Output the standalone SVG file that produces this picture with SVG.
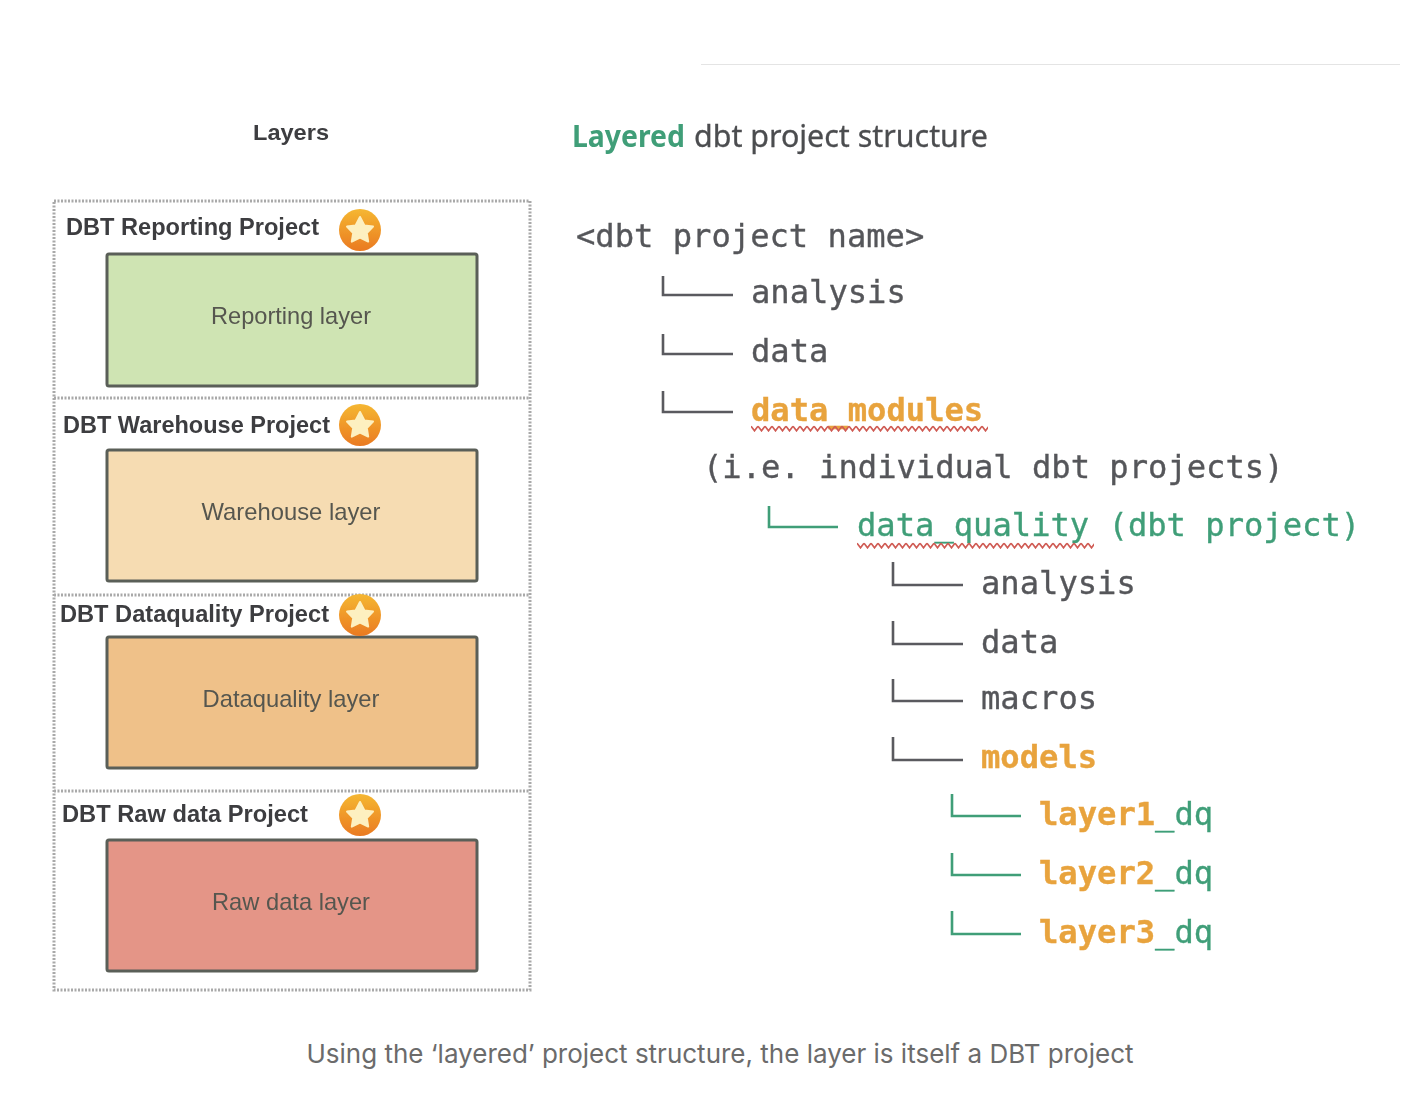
<svg xmlns="http://www.w3.org/2000/svg" width="1406" height="1094" viewBox="0 0 1406 1094">
<style>
.m{font-family:"DejaVu Sans Mono",monospace;font-size:32.15px;fill:#55565a;stroke:#55565a;stroke-width:.35}
.o{fill:#e8a33d;stroke:#e8a33d;font-weight:700}
.g{fill:#3f9e78;stroke:#3f9e78}
.h{font-family:"Liberation Sans",Arial,sans-serif;font-size:24px;font-weight:700;fill:#3c3d40}
.l{font-family:"Liberation Sans",Arial,sans-serif;font-size:24px;fill:#56574f;text-anchor:middle}
.box{stroke:#5a5f58;stroke-width:3}
.dot{fill:none;stroke:#a9a9a9;stroke-width:3;stroke-dasharray:2 1.5}
.t{fill:none;stroke:#5a5a5e;stroke-width:2.6}
.tg{fill:none;stroke:#3f9e78;stroke-width:2.6}
.w{fill:none;stroke:#cf5a52;stroke-width:1.7}
.star{fill:#fdf0c0;stroke:#fdf0c0;stroke-width:2;stroke-linejoin:round}
</style>
<defs>
<linearGradient id="sg" x1="0" y1="0" x2="0" y2="1"><stop offset="0" stop-color="#f5b731"/><stop offset="1" stop-color="#ea7a22"/></linearGradient>
<filter id="b" x="-5%" y="-5%" width="110%" height="110%"><feGaussianBlur stdDeviation="0.5"/></filter>
<g id="badge"><circle r="21" fill="url(#sg)"/><polygon class="star" points="0,-13 4.4,-4.6 13,-3.4 6.8,3 8.2,11.6 0,7.6 -8.2,11.6 -6.8,3 -13,-3.4 -4.4,-4.6"/></g>
<pattern id="wv1" x="751" y="425" width="7" height="7" patternUnits="userSpaceOnUse"><path d="M0 1.2 L3.5 5.8 L7 1.2" class="w"/></pattern>
<pattern id="wv2" x="857" y="542" width="7" height="7" patternUnits="userSpaceOnUse"><path d="M0 1.2 L3.5 5.8 L7 1.2" class="w"/></pattern>
</defs>
<rect width="1406" height="1094" fill="#fff"/>
<rect id="rule" x="701" y="64" width="699" height="1" fill="#e4e4e4"/>
<g id="left" filter="url(#b)">
<text x="291" y="140" class="h" text-anchor="middle" style="font-size:22px" textLength="76" lengthAdjust="spacingAndGlyphs">Layers</text>
<rect x="54" y="201" width="476" height="789" class="dot"/>
<path d="M54 398H530M54 595H530M54 791H530" class="dot"/>
<g id="reporting">
<rect x="107" y="254" width="370" height="132" rx="2" fill="#cfe4b3" class="box"/>
<text x="66" y="235" class="h" textLength="253" lengthAdjust="spacingAndGlyphs">DBT Reporting Project</text>
<use href="#badge" x="360" y="230"/>
<text x="291" y="324" class="l" textLength="160" lengthAdjust="spacingAndGlyphs">Reporting layer</text>
</g>
<g id="warehouse">
<rect x="107" y="450" width="370" height="131" rx="2" fill="#f6dcb2" class="box"/>
<text x="63" y="433" class="h" textLength="267" lengthAdjust="spacingAndGlyphs">DBT Warehouse Project</text>
<use href="#badge" x="360" y="425"/>
<text x="291" y="520" class="l" textLength="179" lengthAdjust="spacingAndGlyphs">Warehouse layer</text>
</g>
<g id="dataquality">
<rect x="107" y="637" width="370" height="131" rx="2" fill="#efc189" class="box"/>
<text x="60" y="622" class="h" textLength="269" lengthAdjust="spacingAndGlyphs">DBT Dataquality Project</text>
<use href="#badge" x="360" y="615"/>
<text x="291" y="707" class="l" textLength="177" lengthAdjust="spacingAndGlyphs">Dataquality layer</text>
</g>
<g id="rawdata">
<rect x="107" y="840" width="370" height="131" rx="2" fill="#e49587" class="box"/>
<text x="62" y="822" class="h" textLength="246" lengthAdjust="spacingAndGlyphs">DBT Raw data Project</text>
<use href="#badge" x="360" y="815"/>
<text x="291" y="910" class="l" textLength="158" lengthAdjust="spacingAndGlyphs">Raw data layer</text>
</g>
</g>
<g id="right" filter="url(#b)">
<text x="572" y="147" font-family="'Noto Sans',sans-serif" font-size="31" font-weight="700" fill="#3f9e78" textLength="113" lengthAdjust="spacingAndGlyphs">Layered</text>
<text x="694" y="147" font-family="'Noto Sans',sans-serif" font-size="31" fill="#4c4d50" stroke="#4c4d50" stroke-width=".3" textLength="294" lengthAdjust="spacingAndGlyphs">dbt project structure</text>
<text class="m" x="576" y="247">&lt;dbt project name&gt;</text>
<text class="m" x="751" y="303">analysis</text>
<text class="m" x="751" y="362">data</text>
<text class="m o" x="751" y="421">data_modules</text>
<text class="m" x="703" y="478">(i.e. individual dbt projects)</text>
<text class="m g" x="857" y="536">data_quality (dbt project)</text>
<text class="m" x="981" y="594">analysis</text>
<text class="m" x="981" y="653">data</text>
<text class="m" x="981" y="709">macros</text>
<text class="m o" x="981" y="768">models</text>
<text class="m g" x="1039" y="825"><tspan class="o">layer1</tspan>_dq</text>
<text class="m g" x="1039" y="884"><tspan class="o">layer2</tspan>_dq</text>
<text class="m g" x="1039" y="943"><tspan class="o">layer3</tspan>_dq</text>
<rect x="751" y="425" width="237" height="7" fill="url(#wv1)"/>
<rect x="857" y="542" width="237" height="7" fill="url(#wv2)"/>
</g>
<g id="connectors" filter="url(#b)">
<path class="t" d="M663 276V295H733"/>
<path class="t" d="M663 334V354H733"/>
<path class="t" d="M663 391V412H733"/>
<path class="tg" d="M769 506V527H838"/>
<path class="t" d="M893 562V585H963"/>
<path class="t" d="M893 621V644H963"/>
<path class="t" d="M893 679V701H963"/>
<path class="t" d="M893 737V760H963"/>
<path class="tg" d="M952 794V816H1021"/>
<path class="tg" d="M952 853V875H1021"/>
<path class="tg" d="M952 911V934H1021"/>
</g>
<text id="caption" x="720" y="1063" text-anchor="middle" font-family="Inter,'Liberation Sans',sans-serif" font-size="26" fill="#6b6b6b" textLength="827" lengthAdjust="spacingAndGlyphs">Using the ‘layered’ project structure, the layer is itself a DBT project</text>
</svg>
